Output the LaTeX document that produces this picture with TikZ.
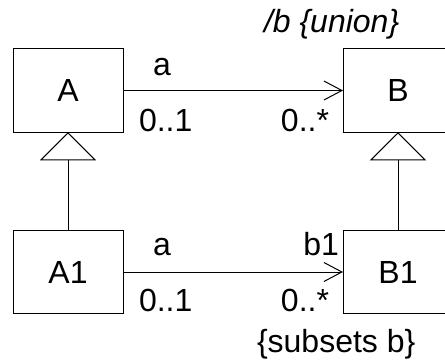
\documentclass[tikz,border=0pt]{standalone}
\usepackage{fontspec}
\setmainfont{Liberation Sans}
\usetikzlibrary{arrows.meta}
\begin{document}
\begin{tikzpicture}[x=1pt,y=-1pt,
  cls/.style={draw, line width=1pt, minimum width=110pt, minimum height=83.5pt, inner sep=0pt, outer sep=0pt, font=\fontsize{32}{38}\selectfont},
  lbl/.style={inner sep=0pt, outer sep=0pt, font=\fontsize{32}{38}\selectfont},
  ilbl/.style={inner sep=0pt, outer sep=0pt, font=\fontsize{32}{38}\selectfont\itshape},
  assoc/.style={line width=1pt, -{Straight Barb[length=18pt,width=19pt,line width=1pt]}},
  gen/.style={line width=1pt, -{Triangle[open,length=28pt,width=56pt,line width=1pt]}}]
\useasboundingbox (0,0) rectangle (445,362);
\node[cls] (A) at (68,90.5) {A};
\node[cls] (B) at (398,90.5) {B};
\node[cls] (A1) at (68,272) {A1};
\node[cls] (B1) at (398,272) {B1};
\draw[assoc] (A.east) -- (B.west);
\draw[assoc] (A1.east) -- (B1.west);
\draw[gen] (A1.north) -- (A.south);
\draw[gen] (B1.north) -- (B.south);
\node[ilbl, anchor=base west] (ub) at (264,32) {/b \{union\}};
\node[lbl, anchor=base] (la) at (162,75) {a};
\node[lbl, anchor=base west] (ma) at (139,131) {0..1};
\node[lbl, anchor=base east] (mb) at (329,131) {0..*};
\node[lbl, anchor=base] (la1) at (162,255) {a};
\node[lbl, anchor=base east] (lb1) at (339,255) {b1};
\node[lbl, anchor=base west] (ma1) at (139,311) {0..1};
\node[lbl, anchor=base east] (mb1) at (329,311) {0..*};
\node[lbl, anchor=base west] (sb) at (257,352) {\{subsets b\}};
\end{tikzpicture}
\end{document}
